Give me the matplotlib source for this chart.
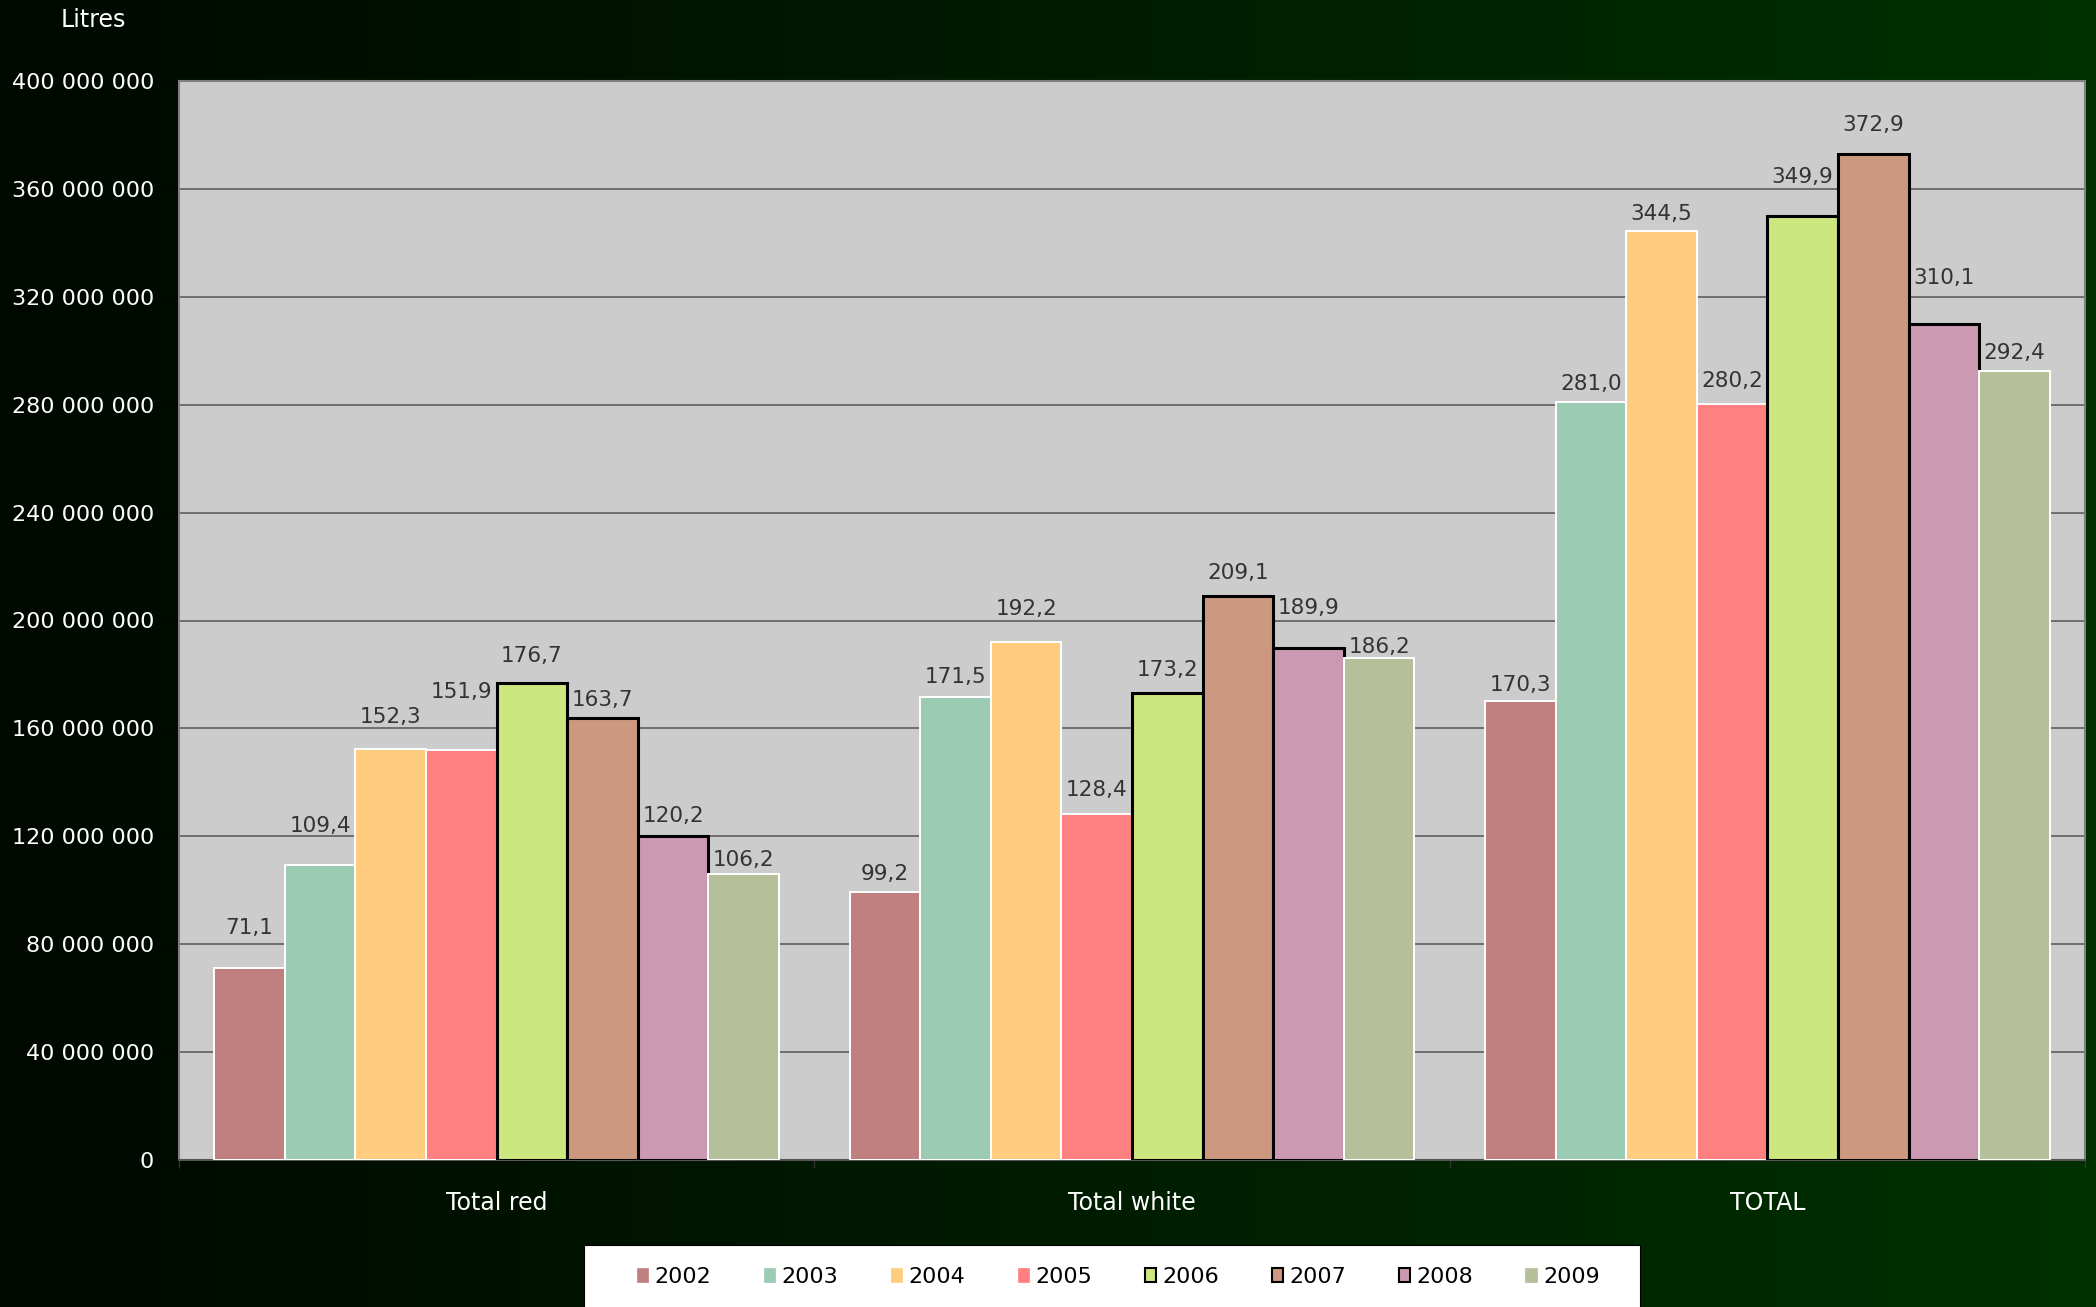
import numpy as np
import matplotlib
matplotlib.use("Agg")
import matplotlib.pyplot as plt
from matplotlib.patches import Patch, Rectangle
from matplotlib.ticker import FuncFormatter, MultipleLocator

# data (litres)
categories = ["Total red", "Total white", "TOTAL"]
years = ["2002", "2003", "2004", "2005", "2006", "2007", "2008", "2009"]
values = {
    "2002": [71.1e6, 99.2e6, 170.3e6],
    "2003": [109.4e6, 171.5e6, 281.0e6],
    "2004": [152.3e6, 192.2e6, 344.5e6],
    "2005": [151.9e6, 128.4e6, 280.2e6],
    "2006": [176.7e6, 173.2e6, 349.9e6],
    "2007": [163.7e6, 209.1e6, 372.9e6],
    "2008": [120.2e6, 189.9e6, 310.1e6],
    "2009": [106.2e6, 186.2e6, 292.4e6],
}

# styles
colors = ["#c08080", "#9ccbb3", "#ffcc80", "#ff8080",
          "#cce680", "#cc9980", "#cc99b3", "#b5bf99"]
edges = ["white", "white", "white", "white", "black", "black", "black", "white"]
# label offset above bar top, in pixels (labels were hand-placed in the original)
label_off = {
    "2002": [40, 18, 16],
    "2003": [39, 20, 18],
    "2004": [32, 33, 17],
    "2005": [58, 24, 23],
    "2006": [27, 23, 39],
    "2007": [18, 23, 29],
    "2008": [20, 40, 46],
    "2009": [14, 11, 18],
}

W, H = 2096, 1307
fig = plt.figure(figsize=(W / 100, H / 100), dpi=100)

# background gradient black -> dark green
bg = fig.add_axes([0, 0, 1, 1], zorder=-10)
grad = np.linspace(0, 1, 256)
img = np.zeros((2, 256, 3))
img[:, :, 1] = (8 + grad * 40) / 255.0
bg.imshow(img, aspect="auto", extent=[0, 1, 0, 1])
bg.set_axis_off()

ax = fig.add_axes([179 / W, 1 - 1160 / H, (2085 - 179) / W, (1160 - 81) / H])
ax.set_facecolor("#cccccc")

x = np.arange(len(categories))
w = 1 / 9
for i, yr in enumerate(years):
    pos = x + (i - 3.5) * w
    lw = 2.2 if edges[i] == "black" else 1.4
    bars = ax.bar(pos, values[yr], width=w, color=colors[i], edgecolor=edges[i],
                  linewidth=lw, zorder=3, label=yr)
    for b, v, off in zip(bars, values[yr], label_off[yr]):
        ax.annotate(f"{v / 1e6:.1f}".replace(".", ","),
                    (b.get_x() + b.get_width() / 2, v),
                    xytext=(0, off * 0.72), textcoords="offset points",
                    ha="center", va="center", fontsize=15.5, color="#333333",
                    zorder=5)

ax.set_ylim(0, 400e6)
ax.set_xlim(-0.5, 2.5)
ax.yaxis.set_major_locator(MultipleLocator(40e6))
ax.yaxis.set_major_formatter(FuncFormatter(lambda v, p: f"{int(v):,}".replace(",", " ")))
ax.grid(axis="y", color="#555555", linewidth=1.1, zorder=1)
ax.set_axisbelow(True)

ax.set_xticks(x)
ax.set_xticklabels(categories)
ax.set_xticks([-0.5, 0.5, 1.5, 2.5], minor=True)
ax.tick_params(axis="x", which="major", length=0, pad=22, labelsize=17, labelcolor="white")
ax.tick_params(axis="x", which="minor", length=6, width=1, color="#333333", direction="out")
ax.tick_params(axis="y", length=6, width=1, color="black", pad=12, labelsize=16,
               labelcolor="white")

for s in ["top", "right", "left"]:
    ax.spines[s].set_color("#808080")
    ax.spines[s].set_linewidth(1.5)
ax.spines["bottom"].set_color("#555555")
ax.spines["bottom"].set_linewidth(1.5)

fig.text(93 / W, 1 - 20 / H, "Litres", ha="center", va="center", fontsize=17, color="white")

# legend box runs off the bottom edge
fig.patches.append(Rectangle((584 / W, -0.02), 1056 / W, 0.02 + (1307 - 1245) / H,
                             transform=fig.transFigure, facecolor="white",
                             edgecolor="black", linewidth=0.8, zorder=1))
handles = [Patch(facecolor=colors[i],
                 edgecolor="black" if edges[i] == "black" else colors[i],
                 linewidth=1.5 if edges[i] == "black" else 0.5)
           for i in range(len(years))]
leg = fig.legend(handles, years, loc="center left", ncol=8, mode="expand",
                 bbox_to_anchor=(637 / W, 1 - 1277 / H, (1600 - 637) / W, 0),
                 frameon=False, fontsize=16, handlelength=0.5,
                 handleheight=0.55, handletextpad=0.3, borderpad=0,
                 borderaxespad=0, columnspacing=1.0)
leg.set_zorder(2)

fig.savefig("out.png", dpi=100)
